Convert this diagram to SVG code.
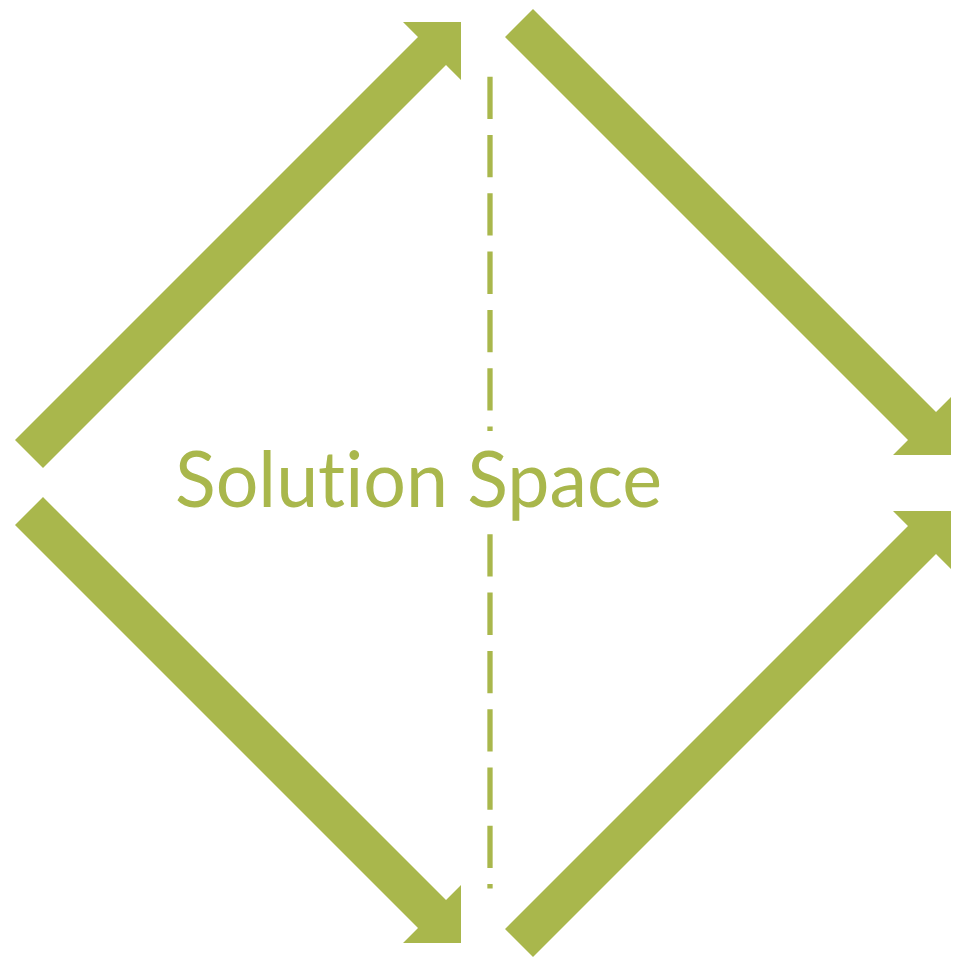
<svg xmlns="http://www.w3.org/2000/svg" width="974" height="959" viewBox="0 0 974 959">
  <style>
    .arrow { fill: #A9B74C; }
    .axis { stroke: #A9B74C; stroke-width: 5.3; stroke-dasharray: 42.3 16; fill: none; }
    .label { fill: #A9B74C; font-family: Lato, "Open Sans", "Liberation Sans", sans-serif; font-size: 77px; font-variant-ligatures: none; }
  </style>
  <rect width="974" height="959" fill="#FFFFFF"/>
  <g id="connectors">
    <polygon id="arrow-left-top" class="arrow" points="15,440 418,37 403,22 461,22 461,80 446,65 43,468"/>
    <polygon id="arrow-top-right" class="arrow" points="533,9 936,412 951,397 951,455 893,455 908,440 505,37"/>
    <polygon id="arrow-left-bottom" class="arrow" points="15,525 418,928 403,943 461,943 461,885 446,900 43,497"/>
    <polygon id="arrow-bottom-right" class="arrow" points="533,957 936,554 951,569 951,511 893,511 908,526 505,929"/>
    <line class="axis" x1="490" y1="76.7" x2="490" y2="431"/>
    <line class="axis" x1="490" y1="534.3" x2="490" y2="888.5"/>
  </g>
  <g id="solution-space">
    <text class="label" x="175" y="506.5" textLength="487" lengthAdjust="spacingAndGlyphs">Solution Space</text>
  </g>
</svg>
